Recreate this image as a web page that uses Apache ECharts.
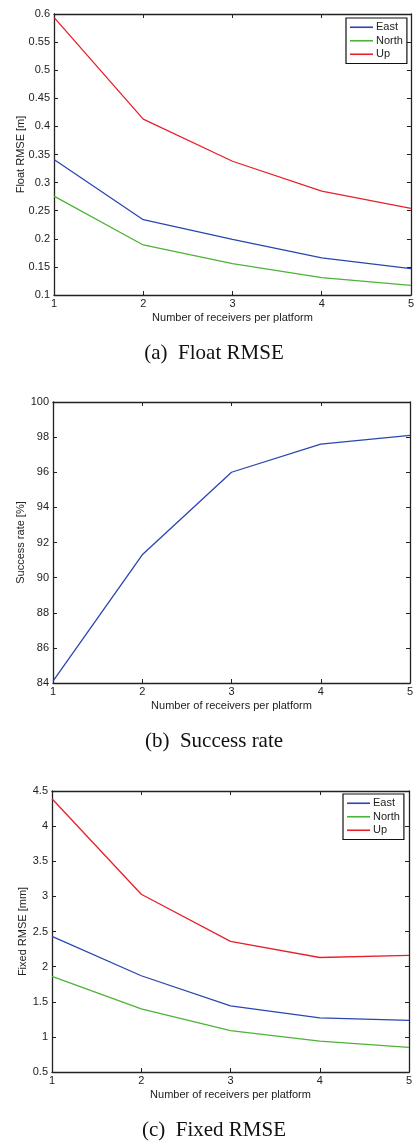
<!DOCTYPE html>
<html>
<head>
<meta charset="utf-8">
<script src="https://cdn.jsdelivr.net/npm/echarts@6/dist/echarts.min.js"></script>
<style>
html, body { margin: 0; padding: 0; background: #fff; }
#chart { width: 417px; height: 1142px; }
</style>
</head>
<body>
<div id="chart"></div>
<script>
// Receivers per platform (shared x values)
const receivers = [1, 2, 3, 4, 5];

// (a) Float RMSE [m]
const floatEast = [0.341, 0.234, 0.199, 0.166, 0.147];
const floatNorth = [0.276, 0.189, 0.156, 0.131, 0.117];
const floatUp = [0.594, 0.413, 0.338, 0.285, 0.254];

// (b) Success rate [%]
const successRate = [84.1, 91.3, 96.0, 97.6, 98.1];

// (c) Fixed RMSE [mm]
const fixedEast = [2.43, 1.87, 1.44, 1.27, 1.235];
const fixedNorth = [1.86, 1.40, 1.09, 0.94, 0.85];
const fixedUp = [4.39, 3.03, 2.36, 2.13, 2.16];

const captions = ['(a)  Float RMSE', '(b)  Success rate', '(c)  Fixed RMSE'];
const xTitle = 'Number of receivers per platform';
const yTitles = ['Float RMSE [m]', 'Success rate [%]', 'Fixed RMSE [mm]'];

const COLORS = { East: '#2a46b0', North: '#4cb337', Up: '#e8202a' };
const FONT = '"Liberation Sans", Arial, sans-serif';
const INK = '#222';

const grids = [
  { left: 54, top: 14, width: 357, height: 281 },
  { left: 53, top: 402, width: 357, height: 281 },
  { left: 52, top: 791, width: 357, height: 281 }
];
const yRanges = [
  { min: 0.1, max: 0.6, interval: 0.05 },
  { min: 84, max: 100, interval: 2 },
  { min: 0.5, max: 4.5, interval: 0.5 }
];
const yNameGaps = [28, 27, 24];

const xAxes = [];
const yAxes = [];
grids.forEach((g, i) => {
  // bottom axis with labels
  xAxes.push({
    type: 'value', gridIndex: i, min: 1, max: 5, interval: 1,
    name: xTitle, nameLocation: 'middle', nameGap: 17, nameMoveOverlap: false,
    nameTextStyle: { fontFamily: FONT, fontSize: 11, color: INK },
    axisLine: { lineStyle: { color: INK, width: 1.3 } },
    axisTick: { inside: true, length: 4, lineStyle: { color: INK } },
    axisLabel: { fontFamily: FONT, fontSize: 11, color: INK, margin: 3 },
    splitLine: { show: false }
  });
  // top mirror axis (box + ticks)
  xAxes.push({
    type: 'value', gridIndex: i, position: 'top', min: 1, max: 5, interval: 1,
    axisLine: { lineStyle: { color: INK, width: 1.3 } },
    axisTick: { inside: true, length: 4, lineStyle: { color: INK } },
    axisLabel: { show: false }, splitLine: { show: false }
  });
  const r = yRanges[i];
  yAxes.push({
    type: 'value', gridIndex: i, min: r.min, max: r.max, interval: r.interval,
    name: yTitles[i], nameLocation: 'middle', nameGap: yNameGaps[i], nameRotate: 90,
    nameMoveOverlap: false,
    nameTextStyle: { fontFamily: FONT, fontSize: 11, color: INK },
    axisLine: { show: true, lineStyle: { color: INK, width: 1.3 } },
    axisTick: { show: true, inside: true, length: 4, lineStyle: { color: INK } },
    axisLabel: { fontFamily: FONT, fontSize: 11, color: INK, margin: 4 },
    splitLine: { show: false }
  });
  // right mirror axis
  yAxes.push({
    type: 'value', gridIndex: i, position: 'right', min: r.min, max: r.max, interval: r.interval,
    axisLine: { show: true, lineStyle: { color: INK, width: 1.3 } },
    axisTick: { show: true, inside: true, length: 4, lineStyle: { color: INK } },
    axisLabel: { show: false }, splitLine: { show: false }
  });
});

function pairs(values) {
  return receivers.map((x, k) => [x, values[k]]);
}
function lineSeries(name, values, gi, color) {
  return {
    type: 'line', name: name, xAxisIndex: gi * 2, yAxisIndex: gi * 2,
    data: pairs(values), symbol: 'none', silent: true, animation: false,
    lineStyle: { color: color, width: 1.3 }, itemStyle: { color: color }
  };
}

const series = [
  lineSeries('East', floatEast, 0, COLORS.East),
  lineSeries('North', floatNorth, 0, COLORS.North),
  lineSeries('Up', floatUp, 0, COLORS.Up),
  lineSeries('Success', successRate, 1, COLORS.East),
  lineSeries('East', fixedEast, 2, COLORS.East),
  lineSeries('North', fixedNorth, 2, COLORS.North),
  lineSeries('Up', fixedUp, 2, COLORS.Up)
];

function legendAt(left, top) {
  return {
    data: ['East', 'North', 'Up'], orient: 'vertical', left: left, top: top,
    icon: 'rect', itemWidth: 23, itemHeight: 1.6, itemGap: 1,
    padding: [3, 4, 3, 4],
    borderColor: '#111', borderWidth: 1.2, backgroundColor: '#fff',
    selectedMode: false,
    textStyle: { fontFamily: FONT, fontSize: 11, lineHeight: 12.5, color: INK, padding: [0, 0, 0, -2] }
  };
}

// figure captions under each panel
const captionY = [353, 741, 1130];
const graphic = captions.map((t, i) => ({
  type: 'text', x: 214, y: captionY[i],
  style: {
    text: t, font: '21px "Liberation Serif", "Times New Roman", serif', fill: '#111',
    align: 'center', verticalAlign: 'middle'
  }
}));

const chart = echarts.init(document.getElementById('chart'), null, { renderer: 'canvas' });
chart.setOption({
  animation: false,
  grid: grids,
  xAxis: xAxes,
  yAxis: yAxes,
  legend: [legendAt(346, 18), legendAt(343, 794)],
  series: series,
  graphic: graphic
});
</script>
</body>
</html>
